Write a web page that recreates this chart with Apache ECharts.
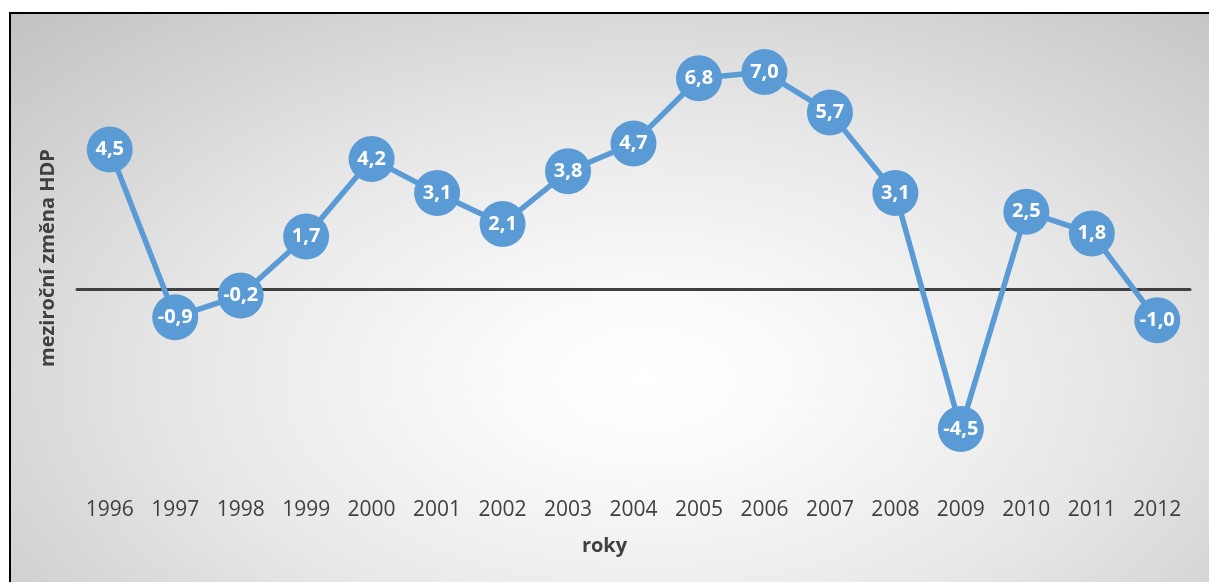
<!DOCTYPE html>
<html>
<head>
<meta charset="utf-8">
<script src="https://cdn.jsdelivr.net/npm/echarts@6/dist/echarts.min.js"></script>
<style>
  html, body { margin: 0; padding: 0; background: #fff; }
  #frame {
    position: absolute; left: 9px; top: 12px; width: 1220px; height: 590px;
    border-top: 2px solid #000; border-left: 2px solid #000;
    background: radial-gradient(ellipse at 52% 62%, #ffffff 0%, #fbfbfb 15%, #e8e8e8 50%, #c2c2c2 100%);
  }
  #chart { position: absolute; left: 0; top: 0; width: 1209px; height: 582px; }
</style>
</head>
<body>
<div id="frame"></div>
<div id="chart"></div>
<script>
  // roky a meziroční změna HDP (%)
  const years = ['1996', '1997', '1998', '1999', '2000', '2001', '2002', '2003', '2004',
                 '2005', '2006', '2007', '2008', '2009', '2010', '2011', '2012'];
  const gdpChange = [4.5, -0.9, -0.2, 1.7, 4.2, 3.1, 2.1, 3.8, 4.7, 6.8, 7.0, 5.7, 3.1, -4.5, 2.5, 1.8, -1.0];

  const blue = '#5B9BD5';
  const font = '"Open Sans", "Noto Sans", sans-serif';

  const myChart = echarts.init(document.getElementById('chart'));
  myChart.setOption({
    animation: false,
    grid: { left: 77, right: 19, top: 41, height: 450 },
    xAxis: [
      {
        // nulová osa
        type: 'category',
        data: years,
        axisLine: { onZero: true, lineStyle: { color: '#404040', width: 3 } },
        axisTick: { show: false },
        axisLabel: { show: false }
      },
      {
        // popisky dole
        type: 'category',
        data: years,
        position: 'bottom',
        axisLine: { show: false, onZero: false },
        axisTick: { show: false },
        axisLabel: { color: '#404040', fontSize: 21, fontFamily: font, margin: 9 }
      }
    ],
    yAxis: {
      type: 'value',
      min: -6.5,
      max: 8,
      axisLine: { show: false },
      axisTick: { show: false },
      axisLabel: { show: false },
      splitLine: { show: false }
    },
    series: [{
      type: 'line',
      xAxisIndex: 0,
      data: gdpChange,
      symbol: 'circle',
      symbolSize: 46,
      showSymbol: true,
      showAllSymbol: true,
      z: 5,
      lineStyle: { color: blue, width: 5.5 },
      itemStyle: { color: blue },
      label: {
        show: true,
        position: 'inside',
        color: '#fff',
        fontWeight: 'bold',
        fontSize: 20,
        fontFamily: font,
        formatter: p => p.value.toFixed(1).replace('.', ',')
      }
    }],
    graphic: [
      {
        type: 'text',
        left: 'center',
        top: 536,
        style: { text: 'roky', fill: '#404040', font: 'bold 20px ' + font }
      },
      {
        type: 'text',
        x: 48,
        y: 258,
        rotation: Math.PI / 2,
        style: {
          text: 'meziroční změna HDP', fill: '#404040', font: 'bold 20px ' + font,
          align: 'center', verticalAlign: 'middle'
        }
      }
    ]
  });
</script>
</body>
</html>
